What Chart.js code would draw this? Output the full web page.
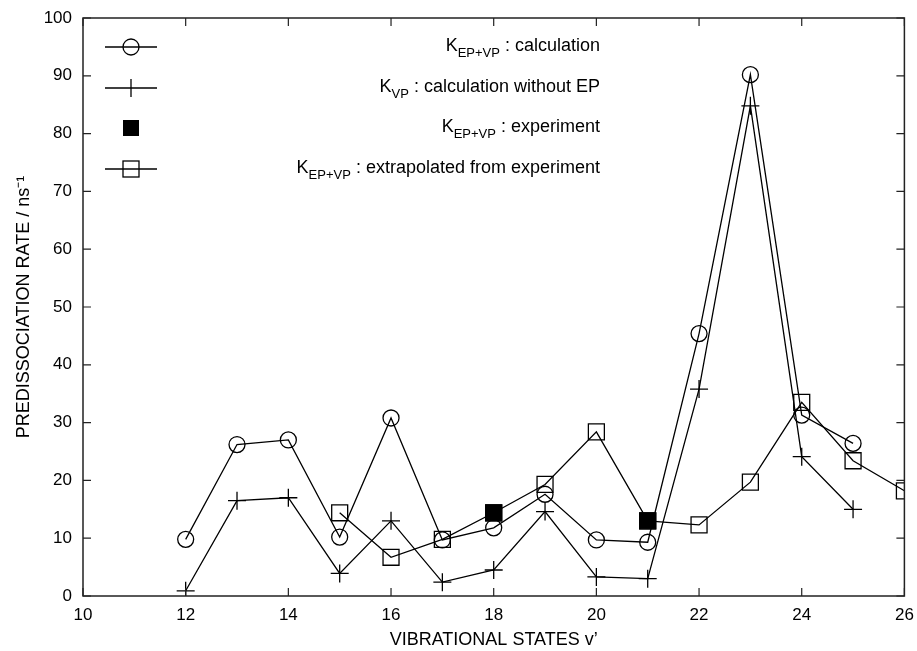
<!DOCTYPE html>
<html lang="en">
<head>
    <meta charset="utf-8">
    <title>Predissociation rate</title>
    <script src="https://cdn.jsdelivr.net/npm/chart.js"></script>
    <style>
        html, body { margin: 0; padding: 0; background: #fff; }
        #wrap { position: relative; width: 917px; height: 651px; }
    </style>
</head>
<body>
<div id="wrap"><canvas id="grafico"></canvas></div>
<script>
    // values
    const estados = [12, 13, 14, 15, 16, 17, 18, 19, 20, 21, 22, 23, 24, 25];
    const calculo = [9.8, 26.2, 27.0, 10.2, 30.8, 9.7, 11.8, 17.6, 9.7, 9.3, 45.4, 90.2, 31.3, 26.4];
    const semEP = [0.9, 16.5, 17.0, 3.9, 13.0, 2.4, 4.5, 14.6, 3.3, 3.0, 35.8, 84.8, 24.1, 15.0];
    const estadosExp = [18, 21];
    const experimento = [14.4, 13.0];
    const estadosExtrap = [15, 16, 17, 18, 19, 20, 21, 22, 23, 24, 25, 26];
    const extrapolado = [14.4, 6.7, 9.8, 14.4, 19.3, 28.4, 13.0, 12.3, 19.7, 33.5, 23.4, 18.2];

    const fonte = '"Liberation Sans", Arial, sans-serif';

    function pares(xs, ys) {
        return xs.map((x, i) => ({ x: x, y: ys[i] }));
    }

    // gnuplot style frame with inward ticks on all four sides
    const molduraPlugin = {
        id: 'moldura',
        afterDatasetsDraw(chart) {
            const { ctx, chartArea: a, scales: { x, y } } = chart;
            ctx.save();
            ctx.strokeStyle = '#222';
            ctx.lineWidth = 1.5;
            ctx.strokeRect(a.left, a.top, a.right - a.left, a.bottom - a.top);
            ctx.lineWidth = 1.2;
            ctx.beginPath();
            x.ticks.forEach(t => {
                const px = x.getPixelForValue(t.value);
                ctx.moveTo(px, a.bottom); ctx.lineTo(px, a.bottom - 8);
                ctx.moveTo(px, a.top); ctx.lineTo(px, a.top + 8);
            });
            y.ticks.forEach(t => {
                const py = y.getPixelForValue(t.value);
                ctx.moveTo(a.left, py); ctx.lineTo(a.left + 8, py);
                ctx.moveTo(a.right, py); ctx.lineTo(a.right - 8, py);
            });
            ctx.stroke();
            ctx.restore();
        }
    };

    // legend inside the plot, text right aligned, with subscripts
    const legendaItens = [
        { estilo: 'circle', linha: true, partes: [['K'], ['EP+VP', 1], [' : calculation']] },
        { estilo: 'cross', linha: true, partes: [['K'], ['VP', 1], [' : calculation without EP']] },
        { estilo: 'filled', linha: false, partes: [['K'], ['EP+VP', 1], [' : experiment']] },
        { estilo: 'rect', linha: true, partes: [['K'], ['EP+VP', 1], [' : extrapolated from experiment']] }
    ];

    const legendaPlugin = {
        id: 'legendaInterna',
        afterDraw(chart) {
            const ctx = chart.ctx;
            const ys = [47, 88, 128, 169];
            const mx = 131, fimTexto = 600;
            ctx.save();
            ctx.strokeStyle = '#000';
            ctx.fillStyle = '#000';
            ctx.lineWidth = 1.3;
            legendaItens.forEach((item, i) => {
                const y = ys[i];
                if (item.linha) {
                    ctx.beginPath();
                    ctx.moveTo(mx - 26, y); ctx.lineTo(mx + 26, y);
                    ctx.stroke();
                }
                ctx.beginPath();
                if (item.estilo === 'circle') {
                    ctx.arc(mx, y, 8, 0, Math.PI * 2);
                    ctx.stroke();
                } else if (item.estilo === 'cross') {
                    ctx.moveTo(mx, y - 9); ctx.lineTo(mx, y + 9);
                    ctx.stroke();
                } else if (item.estilo === 'filled') {
                    ctx.fillRect(mx - 8, y - 8, 16, 16);
                } else {
                    ctx.strokeRect(mx - 8, y - 8, 16, 16);
                }
                // text
                let largura = 0;
                item.partes.forEach(p => {
                    ctx.font = (p[1] ? '13px ' : '18px ') + fonte;
                    largura += ctx.measureText(p[0]).width;
                });
                let x = fimTexto - largura;
                ctx.textBaseline = 'middle';
                item.partes.forEach(p => {
                    ctx.font = (p[1] ? '13px ' : '18px ') + fonte;
                    ctx.fillText(p[0], x, p[1] ? y + 6 : y - 1);
                    x += ctx.measureText(p[0]).width;
                });
            });
            ctx.restore();
        }
    };

    const linha = {
        borderColor: '#000',
        borderWidth: 1.3,
        pointBorderColor: '#000',
        pointBorderWidth: 1.3,
        pointBackgroundColor: 'rgba(0,0,0,0)',
        tension: 0,
        fill: false
    };

    new Chart(document.getElementById('grafico'), {
        type: 'line',
        data: {
            datasets: [
                Object.assign({}, linha, {
                    label: 'K EP+VP : experiment',
                    data: pares(estadosExp, experimento),
                    showLine: false,
                    pointStyle: 'rect',
                    pointRadius: 11.3,
                    pointBackgroundColor: '#000',
                    order: 0
                }),
                Object.assign({}, linha, {
                    label: 'K EP+VP : calculation',
                    data: pares(estados, calculo),
                    pointStyle: 'circle',
                    pointRadius: 8,
                    order: 1
                }),
                Object.assign({}, linha, {
                    label: 'K VP : calculation without EP',
                    data: pares(estados, semEP),
                    pointStyle: 'cross',
                    pointRadius: 9,
                    order: 2
                }),
                Object.assign({}, linha, {
                    label: 'K EP+VP : extrapolated from experiment',
                    data: pares(estadosExtrap, extrapolado),
                    pointStyle: 'rect',
                    pointRadius: 11.3,
                    order: 3
                })
            ]
        },
        options: {
            responsive: true,
            maintainAspectRatio: false,
            animation: false,
            layout: { padding: { left: 0, right: 11, top: 18, bottom: 0 } },
            plugins: {
                legend: { display: false },
                tooltip: { enabled: false }
            },
            scales: {
                x: {
                    type: 'linear',
                    min: 10,
                    max: 26,
                    afterFit(scale) {
                        scale.height = 55;
                        scale.paddingLeft = 0;
                        scale.paddingRight = 0;
                    },
                    grid: { display: false, drawTicks: false },
                    border: { display: false },
                    ticks: {
                        stepSize: 2,
                        padding: 9,
                        color: '#000',
                        font: { family: fonte, size: 17 }
                    },
                    title: {
                        display: true,
                        text: 'VIBRATIONAL STATES v\u2019',
                        color: '#000',
                        font: { family: fonte, size: 18 },
                        padding: { top: 0, bottom: 0 }
                    }
                },
                y: {
                    min: 0,
                    max: 100,
                    afterFit(scale) {
                        scale.width = 83;
                        scale.paddingTop = 0;
                        scale.paddingBottom = 0;
                    },
                    grid: { display: false, drawTicks: false },
                    border: { display: false },
                    ticks: {
                        stepSize: 10,
                        padding: 11,
                        color: '#000',
                        font: { family: fonte, size: 17 }
                    },
                    title: {
                        display: true,
                        text: 'PREDISSOCIATION RATE / ns\u207B\u00B9',
                        color: '#000',
                        font: { family: fonte, size: 18 },
                        padding: { top: 13, bottom: 0 }
                    }
                }
            }
        },
        plugins: [molduraPlugin, legendaPlugin]
    });
</script>
</body>
</html>
